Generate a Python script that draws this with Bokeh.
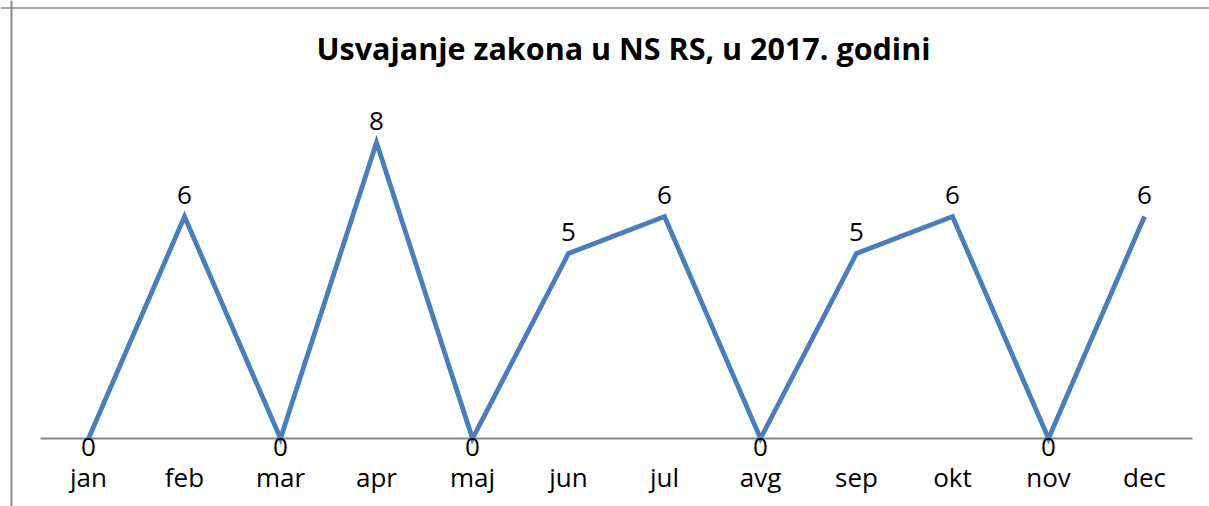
from bokeh.plotting import figure
from bokeh.models import (ColumnDataSource, LabelSet, Label, Range1d, LinearAxis,
                          FixedTicker, Span)
from bokeh.core.properties import value
from bokeh.embed import file_html
from bokeh.resources import INLINE

months = ["jan", "feb", "mar", "apr", "maj", "jun", "jul", "avg", "sep", "okt", "nov", "dec"]
laws = [0, 6, 0, 8, 0, 5, 6, 0, 5, 6, 0, 6]
title_text = "Usvajanje zakona u NS RS, u 2017. godini"

idx = list(range(len(months)))
label_offset = [-8 if v == 0 else 22 for v in laws]
src = ColumnDataSource(dict(x=idx, v=laws, t=[str(v) for v in laws], off=label_offset))

FONT = "Open Sans"
W, H = 1209, 506
PX_X = 96.0   # pixels per category
PX_Y = 37.0   # pixels per unit
X0 = 88.0     # pixel position of first category
Y0 = 438.0    # pixel position of value 0 (from top)

x_start = -X0 / PX_X
y_end = Y0 / PX_Y
p = figure(x_range=Range1d(x_start, x_start + W / PX_X),
           y_range=Range1d(-(H - Y0) / PX_Y, y_end),
           width=W, height=H, output_backend="svg", toolbar_location=None,
           x_axis_location=None, y_axis_location=None, title=None,
           min_border=0)
p.outline_line_color = None
p.grid.visible = False

# chart-area border (top and left edges)
p.add_layout(Span(location=x_start + 11 / PX_X, dimension="height",
                  line_color="#898989", line_width=2))
p.add_layout(Span(location=y_end - 7.5 / PX_Y, dimension="width",
                  line_color="#898989", line_width=1.5))

# title
p.add_layout(Label(x=x_start + 623 / PX_X, y=y_end - 47 / PX_Y, text=title_text,
                   text_align="center", text_baseline="middle",
                   text_font=FONT, text_font_style="bold",
                   text_font_size="30.5px", text_color="black"))

ax = LinearAxis(fixed_location=0, ticker=FixedTicker(ticks=idx),
                major_label_overrides={i: m for i, m in zip(idx, months)},
                bounds=(-0.5, len(months) - 0.5))
ax.axis_line_color = "#868686"
ax.axis_line_width = 2
ax.major_tick_line_color = None
ax.minor_tick_line_color = None
ax.major_label_text_font = FONT
ax.major_label_text_font_size = "26px"
ax.major_label_text_color = "black"
ax.major_label_standoff = 14
p.add_layout(ax, "below")

p.line("x", "v", source=src, line_color="#4a7ebb", line_width=4.8, line_join="miter")

labels = LabelSet(x="x", y="v", text="t", source=src, y_offset="off",
                  text_align="center", text_baseline="middle",
                  text_font=value(FONT), text_font_size=value("26px"), text_color="black")
p.add_layout(labels)

open("out.html", "w").write(file_html(p, INLINE))
